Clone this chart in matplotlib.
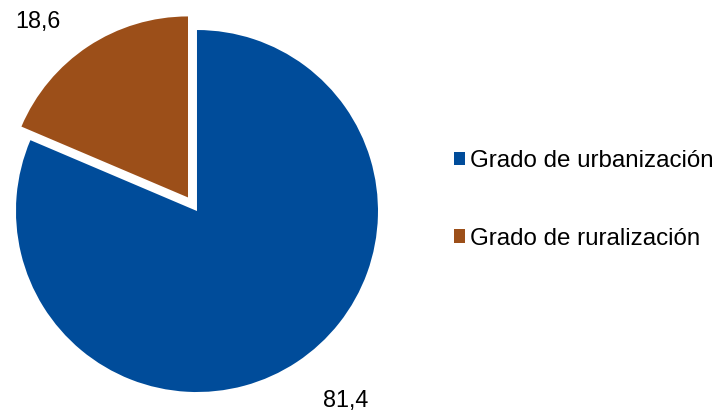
import matplotlib
matplotlib.use("Agg")
import matplotlib.pyplot as plt
from matplotlib.patches import Patch

categories = ["Grado de urbanización", "Grado de ruralización"]
values = [81.4, 18.6]
colors = ["#004C9A", "#9C4F19"]
explode = [0, 0.09]
label_pos = [(0.82, -1.045), (-0.88, 1.045)]

plt.rcParams["font.family"] = ["Liberation Sans", "DejaVu Sans"]

fig = plt.figure(figsize=(7.23, 4.13), dpi=100)
ax = fig.add_axes([0.0221, 0.0508, 0.5007, 0.8765])

wedges, _ = ax.pie(values, colors=colors, startangle=90, counterclock=False,
                   explode=explode, wedgeprops=dict(linewidth=0))
for w in wedges:
    w.set_clip_on(False)
ax.set_xlim(-1, 1)
ax.set_ylim(-1, 1)
ax.set_aspect("auto")
ax.axis("off")

for v, (x, y) in zip(values, label_pos):
    ax.text(x, y, f"{v:.1f}".replace(".", ","), ha="center", va="center",
            fontsize=16.8, color="#000000", clip_on=False)

handles = [Patch(facecolor=c, edgecolor="none") for c in colors]
fig.legend(handles, categories, loc="center left", bbox_to_anchor=(454 / 723, 0.516),
           frameon=False, fontsize=17.4, handlelength=0.47, handleheight=0.47,
           handletextpad=0.2, labelspacing=2.3, borderpad=0, borderaxespad=0)

fig.savefig("out.png", dpi=100)
